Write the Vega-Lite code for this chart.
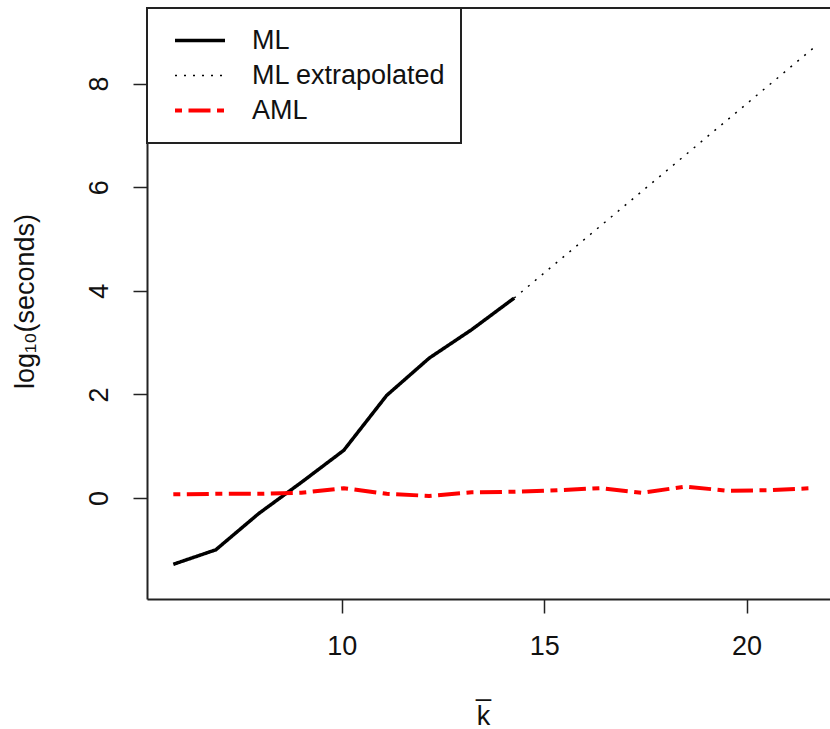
{
  "$schema": "https://vega.github.io/schema/vega-lite/v6.json",
  "width": 683,
  "height": 591,
  "autosize": {"type": "none"},
  "padding": {"left": 147, "top": 8, "right": 0, "bottom": 130},
  "background": "white",
  "config": {
    "view": {"stroke": null},
    "font": "Liberation Sans",
    "axis": {"grid": false, "labelColor": "#111", "titleColor": "#111", "titleFontWeight": "normal", "domainColor": "#222", "domainWidth": 2, "tickColor": "#222", "tickWidth": 1.5, "tickSize": 14, "labelFontSize": 27, "titleFontSize": 27, "labelFont": "Liberation Sans", "titleFont": "Liberation Sans"}
  },
  "data": {
    "values": [
      {"series": "ML", "k": 5.84, "y": -1.28},
      {"series": "ML", "k": 6.89, "y": -1.0},
      {"series": "ML", "k": 7.95, "y": -0.3},
      {"series": "ML", "k": 9.0, "y": 0.3},
      {"series": "ML", "k": 10.05, "y": 0.92},
      {"series": "ML", "k": 11.11, "y": 1.98},
      {"series": "ML", "k": 12.16, "y": 2.7},
      {"series": "ML", "k": 13.21, "y": 3.25},
      {"series": "ML", "k": 14.26, "y": 3.86},
      {"series": "ML extrapolated", "k": 14.26, "y": 3.86},
      {"series": "ML extrapolated", "k": 21.64, "y": 8.68},
      {"series": "AML", "k": 5.84, "y": 0.07},
      {"series": "AML", "k": 6.89, "y": 0.08},
      {"series": "AML", "k": 7.95, "y": 0.08},
      {"series": "AML", "k": 9.0, "y": 0.1},
      {"series": "AML", "k": 10.05, "y": 0.19},
      {"series": "AML", "k": 11.11, "y": 0.08},
      {"series": "AML", "k": 12.16, "y": 0.04},
      {"series": "AML", "k": 13.21, "y": 0.11},
      {"series": "AML", "k": 14.26, "y": 0.12},
      {"series": "AML", "k": 15.32, "y": 0.15},
      {"series": "AML", "k": 16.37, "y": 0.19},
      {"series": "AML", "k": 17.42, "y": 0.1},
      {"series": "AML", "k": 18.48, "y": 0.22},
      {"series": "AML", "k": 19.53, "y": 0.14},
      {"series": "AML", "k": 20.58, "y": 0.15},
      {"series": "AML", "k": 21.64, "y": 0.19}
    ]
  },
  "layer": [
    {
      "mark": {"type": "line", "strokeCap": "butt", "strokeJoin": "round"},
      "encoding": {
        "x": {
          "field": "k", "type": "quantitative",
          "scale": {"domain": [5.19, 22.06], "nice": false, "zero": false},
          "axis": {"orient": "bottom", "values": [10, 15, 20], "labelPadding": 20, "title": ["_", "k"], "titleLineHeight": 30, "titleX": 336, "titleY": 95, "titleBaseline": "alphabetic", "titleAlign": "center"}
        },
        "y": {
          "field": "y", "type": "quantitative",
          "scale": {"domain": [-1.95, 9.459], "nice": false, "zero": false},
          "axis": {"values": [0, 2, 4, 6, 8], "labelAngle": -90, "labelAlign": "center", "labelBaseline": "bottom", "labelPadding": 20, "title": "log₁₀(seconds)", "titleAngle": -90, "titleX": -114, "titleY": 293, "titleBaseline": "alphabetic", "titleAlign": "center"}
        },
        "color": {
          "field": "series", "type": "nominal",
          "scale": {"domain": ["ML", "ML extrapolated", "AML"], "range": ["#000000", "#000000", "#ff0000"]},
          "legend": {"orient": "none", "legendX": 0, "legendY": 0, "title": null, "symbolType": "stroke", "symbolSize": 2500, "symbolOffset": 11, "labelOffset": 25, "labelFontSize": 27, "labelFont": "Liberation Sans", "labelColor": "#111", "labelLimit": 400, "clipHeight": 35, "rowPadding": 0, "padding": 15, "strokeColor": "#222", "fillColor": "white", "encode": {"legend": {"update": {"strokeWidth": {"value": 2}}}}}
        },
        "strokeDash": {
          "field": "series", "type": "nominal",
          "scale": {"domain": ["ML", "ML extrapolated", "AML"], "range": [[1, 0], [2, 7], [7, 6.5, 22, 6.5]]},
          "legend": {"orient": "none", "legendX": 0, "legendY": 0, "title": null, "symbolType": "stroke", "symbolSize": 2500, "symbolOffset": 11, "labelOffset": 25, "labelFontSize": 27, "labelFont": "Liberation Sans", "labelColor": "#111", "labelLimit": 400, "clipHeight": 35, "rowPadding": 0, "padding": 15, "strokeColor": "#222", "fillColor": "white"}
        },
        "strokeWidth": {
          "field": "series", "type": "nominal",
          "scale": {"type": "ordinal", "domain": ["ML", "ML extrapolated", "AML"], "range": [3.5, 1.5, 4]},
          "legend": {"orient": "none", "legendX": 0, "legendY": 0, "title": null, "symbolType": "stroke", "symbolSize": 2500, "symbolOffset": 11, "labelOffset": 25, "labelFontSize": 27, "labelFont": "Liberation Sans", "labelColor": "#111", "labelLimit": 400, "clipHeight": 35, "rowPadding": 0, "padding": 15, "strokeColor": "#222", "fillColor": "white"}
        }
      }
    },
    {
      "data": {"values": [{"top": 9.459}]},
      "mark": {"type": "rule", "color": "#222", "strokeWidth": 2},
      "encoding": {"y": {"field": "top", "type": "quantitative"}}
    }
  ]
}
